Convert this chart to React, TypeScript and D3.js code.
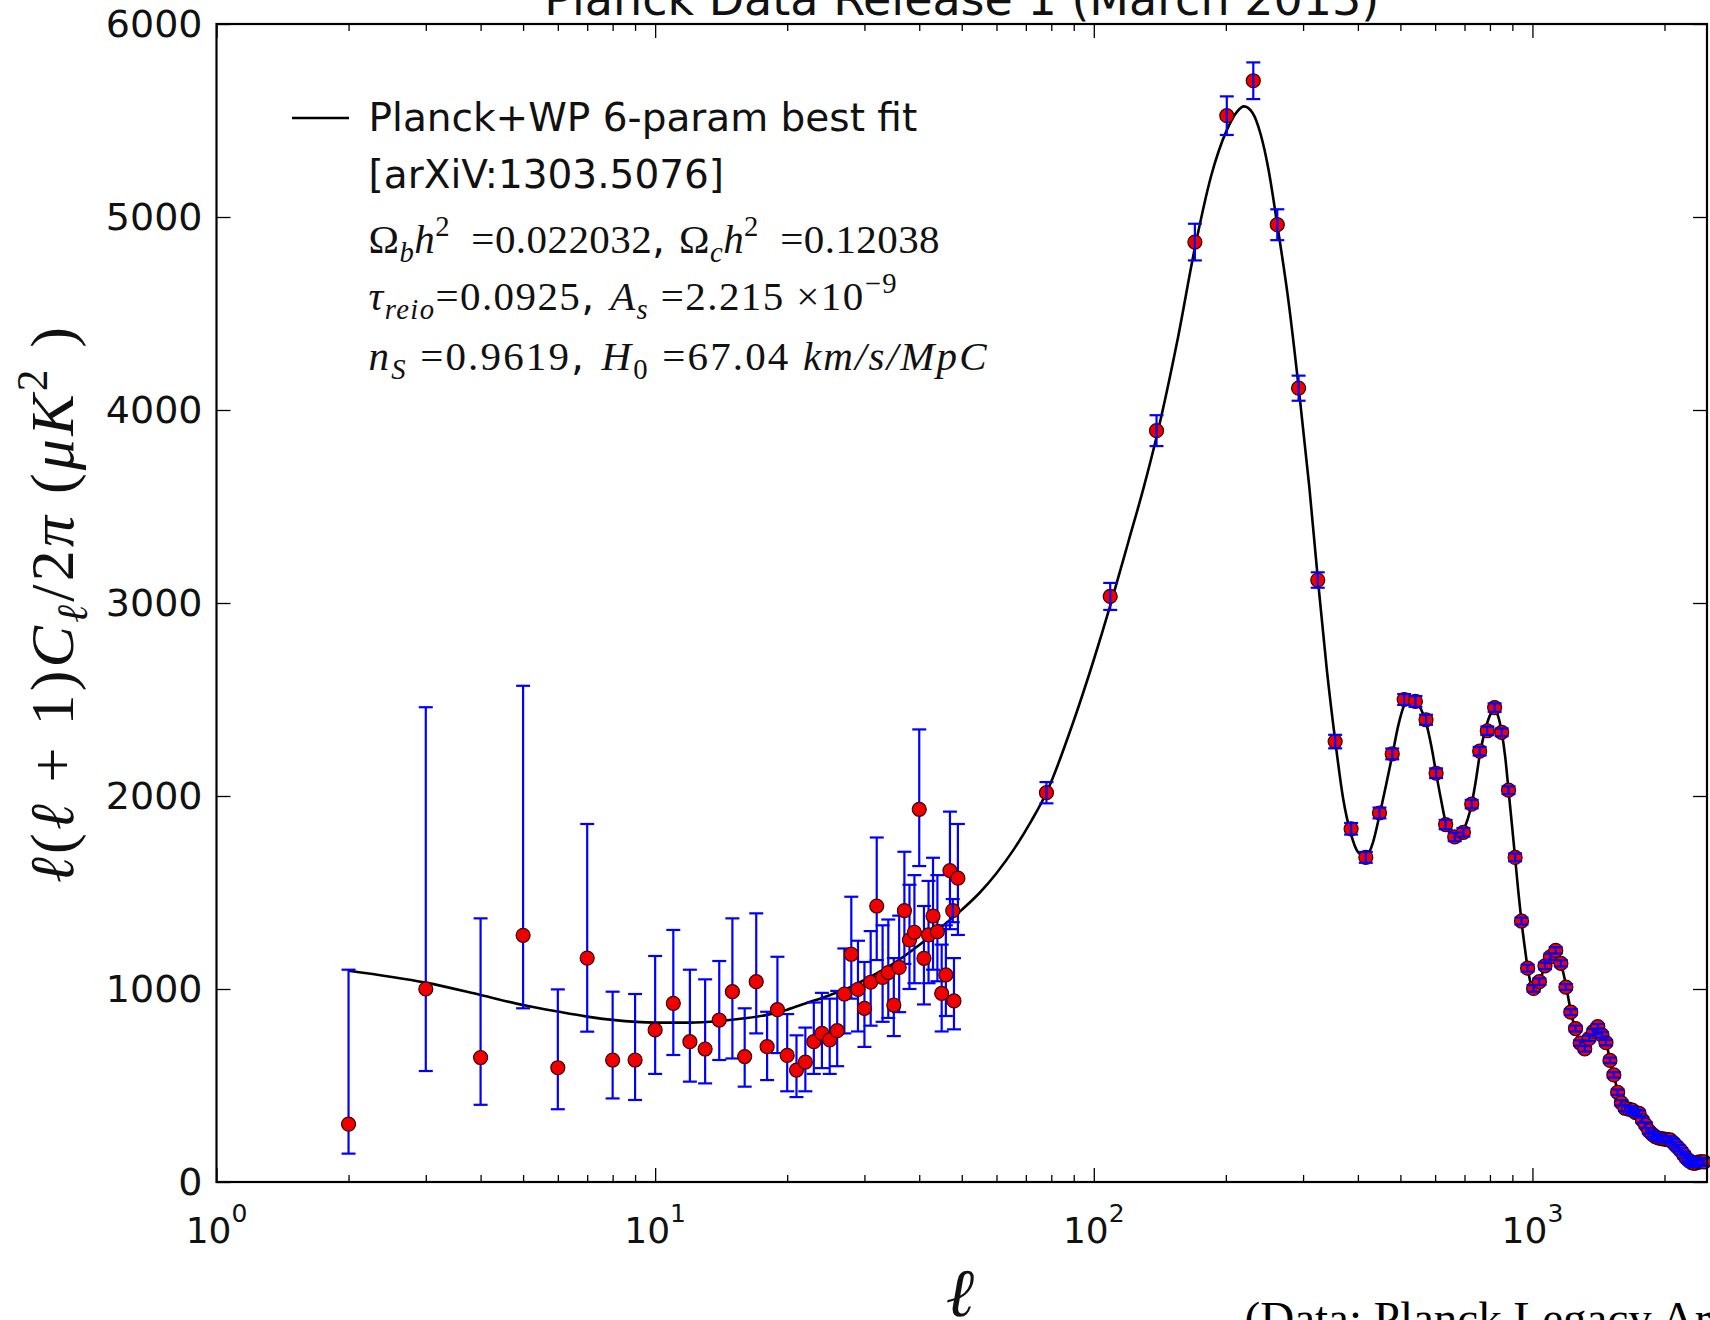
import React, { useEffect, useRef } from "react";
import * as d3 from "d3";

// low-l (unbinned) points, l = 2..49
const lowEll = [2, 3, 4, 5, 6, 7, 8, 9, 10, 11, 12, 13, 14, 15, 16, 17, 18, 19, 20, 21, 22, 23, 24, 25,
  26, 27, 28, 29, 30, 31, 32, 33, 34, 35, 36, 37, 38, 39, 40, 41, 42, 43, 44, 45, 46, 47, 48, 49];
const lowDl = [300, 1000, 645, 1278, 592, 1160, 632, 632, 788, 926, 727, 689, 839, 986, 650, 1038, 701, 893,
  656, 580, 621, 727, 770, 736, 784, 974, 1180, 998, 900, 1035, 1430, 1060, 1085, 917, 1112, 1406, 1254, 1294,
  1931, 1159, 1280, 1378, 1297, 977, 1073, 1613, 938, 1574];
const lowLo = [147, 575, 400, 900, 377, 779, 433, 425, 560, 658, 520, 511, 632, 640, 494, 770, 528, 668,
  470, 440, 470, 560, 590, 560, 600, 770, 950, 780, 700, 810, 1150, 830, 850, 756, 880, 1130, 1000, 1030,
  1637, 920, 1030, 1100, 1040, 780, 860, 1310, 791, 1280];
const lowHi = [1100, 2460, 1366, 2571, 998, 1855, 986, 974, 1171, 1306, 1100, 1050, 1145, 1366, 900, 1392, 882, 1167,
  870, 760, 800, 930, 980, 950, 990, 1210, 1478, 1250, 1140, 1300, 1785, 1330, 1360, 1160, 1380, 1711, 1540, 1590,
  2345, 1430, 1560, 1680, 1590, 1230, 1330, 1919, 1160, 1855];

// high-l binned points
const highEll = [47.7, 78, 109, 139, 170, 201, 231, 262, 293, 324, 355, 386, 417, 448, 479, 510, 541, 572, 603,
  634, 665, 696, 727, 758, 789, 820, 851, 882, 913, 944, 975, 1006, 1037, 1068, 1099, 1130, 1161, 1192, 1223,
  1254, 1285, 1316, 1347, 1378, 1409, 1440, 1471, 1502, 1533, 1564, 1595, 1626, 1657, 1688, 1719, 1750, 1781,
  1812, 1843, 1874, 1905, 1936, 1967, 1998, 2029, 2060, 2091, 2122, 2153, 2184, 2215, 2246, 2277, 2308, 2339,
  2370, 2401, 2432, 2463];
const highDl = [1406, 2017, 3034, 3893, 4870, 5525, 5706, 4960, 4113, 3119, 2282, 1830, 1682, 1912, 2218, 2500,
  2490, 2395, 2118, 1852, 1788, 1812, 1958, 2232, 2338, 2458, 2330, 2030, 1682, 1352, 1108, 1003, 1038, 1120,
  1167, 1200, 1133, 1010, 880, 795, 720, 690, 744, 780, 805, 762, 722, 630, 555, 465, 410, 382, 378, 372, 360,
  356, 320, 295, 265, 248, 235, 228, 225, 222, 220, 218, 205, 190, 175, 160, 140, 122, 110, 100, 97, 100, 104,
  105, 104];
const highErr = [60, 55, 70, 80, 95, 100, 95, 80, 65, 40, 35, 30, 28, 28, 28, 28, 28, 26, 25, 24, 22, 22, 22,
  22, 22, 22, 20, 20, 20, 18, 18, 17, 17, 17, 16, 16, 16, 15, 15, 15, 14, 14, 14, 14, 14, 14, 14, 14, 14, 14,
  14, 14, 14, 14, 14, 14, 14, 14, 14, 14, 14, 15, 15, 15, 15, 15, 16, 16, 16, 16, 17, 17, 17, 18, 18, 18, 19,
  19, 20];

// best-fit curve
const fitEll = [2, 3, 4, 5, 6, 7, 8, 10, 12, 14, 16, 18, 20, 22, 25, 28, 30, 35, 40, 45, 50, 55, 60, 66, 72, 78,
  90, 100, 109, 120, 130, 139, 155, 170, 185, 201, 212, 220, 230, 240, 250, 262, 278, 293, 310, 324, 340, 355,
  370, 386, 400, 417, 433, 448, 464, 479, 495, 510, 525, 541, 557, 572, 588, 603, 619, 634, 650, 665, 681, 696,
  712, 727, 743, 758, 774, 789, 805, 820, 836, 851, 867, 882, 898, 913, 929, 944, 960, 975, 991, 1006, 1022,
  1037, 1053, 1068, 1084, 1099, 1115, 1130, 1146, 1161, 1177, 1192, 1208, 1223, 1239, 1254, 1270, 1285, 1301,
  1316, 1332, 1347, 1363, 1378, 1394, 1409, 1425, 1440, 1456, 1471, 1487, 1502, 1518, 1533, 1549, 1564, 1580,
  1595, 1626, 1657, 1688, 1719, 1750, 1781, 1812, 1843, 1874, 1905, 1936, 1967, 1998, 2029, 2060, 2091, 2122,
  2153, 2184, 2215, 2246, 2277, 2308, 2339, 2370, 2401, 2432, 2463, 2500];
const fitDl = [1095, 1033, 969, 917, 883, 857, 840, 826, 826, 834, 848, 866, 893, 925, 968, 1012, 1047, 1133,
  1228, 1322, 1410, 1500, 1600, 1730, 1870, 2017, 2390, 2706, 2986, 3320, 3600, 3860, 4357, 4840, 5210, 5450,
  5545, 5573, 5540, 5430, 5250, 4960, 4560, 4120, 3600, 3130, 2650, 2290, 1990, 1800, 1710, 1685, 1760, 1900,
  2060, 2210, 2370, 2470, 2505, 2490, 2450, 2380, 2260, 2120, 1980, 1865, 1805, 1785, 1795, 1825, 1880, 1960,
  2080, 2210, 2310, 2380, 2430, 2445, 2410, 2330, 2200, 2030, 1850, 1680, 1500, 1350, 1220, 1110, 1030, 1000,
  1005, 1038, 1080, 1120, 1155, 1180, 1195, 1190, 1165, 1130, 1080, 1020, 950, 885, 830, 790, 750, 720, 700,
  690, 705, 735, 765, 785, 800, 805, 795, 770, 745, 720, 680, 630, 590, 555, 510, 465, 430, 410, 385, 378, 372,
  362, 352, 322, 295, 268, 248, 236, 228, 225, 222, 219, 215, 205, 190, 174, 158, 140, 123, 110, 101, 98, 100,
  103, 104, 103, 100];

const yTicks = [0, 1000, 2000, 3000, 4000, 5000, 6000];
const xDecades = [1, 10, 100, 1000];
const xDecadeExp = ["0", "1", "2", "3"];

const W = 1710;
const H = 1320;
const left = 216.5;
const right = 1707;
const top = 24;
const bottom = 1182;

const x = d3.scaleLog().domain([1, 2500]).range([left, right]);
const y = d3.scaleLinear().domain([0, 6000]).range([bottom, top]);

type Seg = { t: string; it?: boolean; sans?: boolean; pos?: "sub" | "sup" };

const MathText = ({ segs, size, ...rest }: { segs: Seg[]; size: number; [k: string]: any }) => {
  let cur = 0;
  return (
    <text {...rest} fontSize={size} fontFamily="Liberation Serif, DejaVu Serif" style={{ whiteSpace: "pre" }}>
      {segs.map((s, i) => {
        const target = s.pos === "sub" ? size * 0.22 : s.pos === "sup" ? -size * 0.42 : 0;
        const dy = target - cur;
        cur = target;
        return (
          <tspan
            key={i}
            dy={dy}
            fontSize={s.pos ? size * 0.7 : size}
            fontStyle={s.it ? "italic" : "normal"}
            fontFamily={s.sans ? "DejaVu Sans" : "Liberation Serif, DejaVu Serif"}
          >
            {s.t}
          </tspan>
        );
      })}
    </text>
  );
};

const line3: Seg[] = [
  { t: "Ω" }, { t: "b", it: true, pos: "sub" }, { t: "h", it: true }, { t: "2", pos: "sup" },
  { t: "  =0.022032" }, { t: ", ", sans: true },
  { t: "Ω" }, { t: "c", it: true, pos: "sub" }, { t: "h", it: true }, { t: "2", pos: "sup" }, { t: "  =0.12038" },
];
const line4: Seg[] = [
  { t: "τ", it: true }, { t: "reio", it: true, pos: "sub" }, { t: "=0.0925" }, { t: ", ", sans: true },
  { t: "A", it: true }, { t: "s", it: true, pos: "sub" }, { t: " =2.215 ×10" }, { t: "−9", pos: "sup" },
];
const line5: Seg[] = [
  { t: "n", it: true }, { t: "S", it: true, pos: "sub" }, { t: " =0.9619" }, { t: ", ", sans: true },
  { t: "H", it: true }, { t: "0", pos: "sub" }, { t: " =67.04 " }, { t: "km/s/MpC", it: true },
];
const yLabel: Seg[] = [
  { t: "ℓ", it: true }, { t: "(" }, { t: "ℓ", it: true }, { t: " + 1)" }, { t: "C", it: true },
  { t: "ℓ", it: true, pos: "sub" }, { t: "/2" }, { t: "π", it: true }, { t: " (" }, { t: "μK", it: true },
  { t: "2", pos: "sup" }, { t: " )" },
];

const App = () => {
  const svgRef = useRef<SVGSVGElement>(null);

  useEffect(() => {
    const svg = d3.select(svgRef.current);
    const minor = x.ticks().filter((v) => !xDecades.includes(v) && v <= 2500);

    const styleAxis = (g: any) => {
      g.select(".domain").remove();
      g.selectAll(".tick line").attr("stroke", "#000").attr("stroke-width", 1.3);
    };

    svg.select<SVGGElement>(".x-major")
      .attr("transform", `translate(0,${bottom})`)
      .call(d3.axisBottom(x).tickValues(xDecades).tickSize(-14).tickSizeOuter(0).tickFormat(() => ""))
      .call(styleAxis);
    svg.select<SVGGElement>(".x-minor")
      .attr("transform", `translate(0,${bottom})`)
      .call(d3.axisBottom(x).tickValues(minor).tickSize(-7).tickSizeOuter(0).tickFormat(() => ""))
      .call(styleAxis);
    svg.select<SVGGElement>(".xt-major")
      .attr("transform", `translate(0,${top})`)
      .call(d3.axisTop(x).tickValues(xDecades).tickSize(-14).tickSizeOuter(0).tickFormat(() => ""))
      .call(styleAxis);
    svg.select<SVGGElement>(".xt-minor")
      .attr("transform", `translate(0,${top})`)
      .call(d3.axisTop(x).tickValues(minor).tickSize(-7).tickSizeOuter(0).tickFormat(() => ""))
      .call(styleAxis);

    svg.select<SVGGElement>(".y-axis")
      .attr("transform", `translate(${left},0)`)
      .call(d3.axisLeft(y).tickValues(yTicks).tickSize(-14).tickSizeOuter(0).tickPadding(14).tickFormat(d3.format("d")))
      .call(styleAxis)
      .call((g: any) =>
        g.selectAll(".tick text").attr("font-size", 38).attr("font-family", "DejaVu Sans").attr("fill", "#111")
      );
    svg.select<SVGGElement>(".y-right")
      .attr("transform", `translate(${right},0)`)
      .call(d3.axisRight(y).tickValues(yTicks).tickSize(-14).tickSizeOuter(0).tickFormat(() => ""))
      .call(styleAxis);

    // best fit curve
    const fit = fitEll.map((l, i) => [l, fitDl[i]] as [number, number]);
    const lineGen = d3.line<[number, number]>()
      .x((d) => x(d[0]))
      .y((d) => y(d[1]))
      .curve(d3.curveMonotoneX);
    svg.select(".fit")
      .attr("d", lineGen(fit))
      .attr("fill", "none")
      .attr("stroke", "#000")
      .attr("stroke-width", 2.6);

    const low = lowEll.map((l, i) => ({ l, v: lowDl[i], lo: lowLo[i], hi: lowHi[i] }));
    const high = highEll.map((l, i) => ({ l, v: highDl[i], lo: highDl[i] - highErr[i], hi: highDl[i] + highErr[i] }));
    const cap = 7;

    const drawBars = (g: any, data: any[]) => {
      g.selectAll(".bar")
        .data(data)
        .join("line")
        .attr("class", "bar")
        .attr("x1", (d: any) => x(d.l))
        .attr("x2", (d: any) => x(d.l))
        .attr("y1", (d: any) => y(d.lo))
        .attr("y2", (d: any) => y(d.hi))
        .attr("stroke", "#0000ff")
        .attr("stroke-width", 2.2);
      g.selectAll(".cap")
        .data(data.flatMap((d) => [{ l: d.l, v: d.lo }, { l: d.l, v: d.hi }]))
        .join("line")
        .attr("class", "cap")
        .attr("x1", (d: any) => x(d.l) - cap)
        .attr("x2", (d: any) => x(d.l) + cap)
        .attr("y1", (d: any) => y(d.v))
        .attr("y2", (d: any) => y(d.v))
        .attr("stroke", "#0000ff")
        .attr("stroke-width", 2.2);
    };
    const drawDots = (g: any, data: any[]) => {
      g.selectAll(".dot")
        .data(data)
        .join("ellipse")
        .attr("class", "dot")
        .attr("cx", (d: any) => x(d.l))
        .attr("cy", (d: any) => y(d.v))
        .attr("rx", 7)
        .attr("ry", 7)
        .attr("fill", "#f00000")
        .attr("stroke", "#3a0000")
        .attr("stroke-width", 1.2);
    };

    drawBars(svg.select(".low-bars"), low);
    drawDots(svg.select(".low-dots"), low);
    drawDots(svg.select(".high-dots"), high);
    drawBars(svg.select(".high-bars"), high);
  }, []);

  return (
    <div style={{ position: "absolute", left: 0, top: 0 }}>
      <svg ref={svgRef} width={W} height={H} style={{ display: "block", background: "#fff" }}>
        <rect x={0} y={0} width={W} height={H} fill="#fff" />
        <text x={(left + right) / 2} y={15} textAnchor="middle" fontFamily="DejaVu Sans" fontSize={46} fill="#111">
          Planck Data Release 1 (March 2013)
        </text>

        <path className="fit" />
        <g className="low-bars" />
        <g className="low-dots" />
        <g className="high-dots" />
        <g className="high-bars" />

        <g className="x-major" />
        <g className="x-minor" />
        <g className="xt-major" />
        <g className="xt-minor" />
        <g className="y-axis" />
        <g className="y-right" />
        <rect x={left} y={top} width={right - left} height={bottom - top} fill="none" stroke="#000" strokeWidth={2.2} />

        {xDecades.map((v, i) => (
          <text key={v} x={x(v)} y={1243} textAnchor="middle" fontFamily="DejaVu Sans" fontSize={36} fill="#111">
            10
            <tspan dy={-21} fontSize={25}>{xDecadeExp[i]}</tspan>
          </text>
        ))}

        {/* legend */}
        <line x1={292} x2={349} y1={118} y2={118} stroke="#000" strokeWidth={2.6} />
        <text x={368.6} y={131} fontFamily="DejaVu Sans" fontSize={39} fill="#111">
          Planck+WP 6-param best fit
        </text>
        <text x={368.6} y={187.6} fontFamily="DejaVu Sans" fontSize={39} fill="#111">
          [arXiV:1303.5076]
        </text>
        <MathText segs={line3} size={41} x={368.6} y={253} fill="#111" textLength={571} lengthAdjust="spacing" />
        <MathText segs={line4} size={41} x={368.6} y={310} fill="#111" textLength={528} lengthAdjust="spacing" />
        <MathText segs={line5} size={41} x={368.6} y={370} fill="#111" textLength={618} lengthAdjust="spacing" />

        <MathText
          segs={yLabel}
          size={62}
          transform="translate(73,605) rotate(-90)"
          textAnchor="middle"
          fill="#111"
          textLength={556}
          lengthAdjust="spacing"
        />
        <text x={960} y={1316} textAnchor="middle" fontFamily="Liberation Serif, DejaVu Serif" fontStyle="italic" fontSize={68} fill="#111">
          ℓ
        </text>

        <text x={1244.6} y={1334} fontFamily="Liberation Serif" fontSize={47} fill="#000">
          (Data: Planck Legacy Archive)
        </text>
      </svg>
    </div>
  );
};

export default App;
